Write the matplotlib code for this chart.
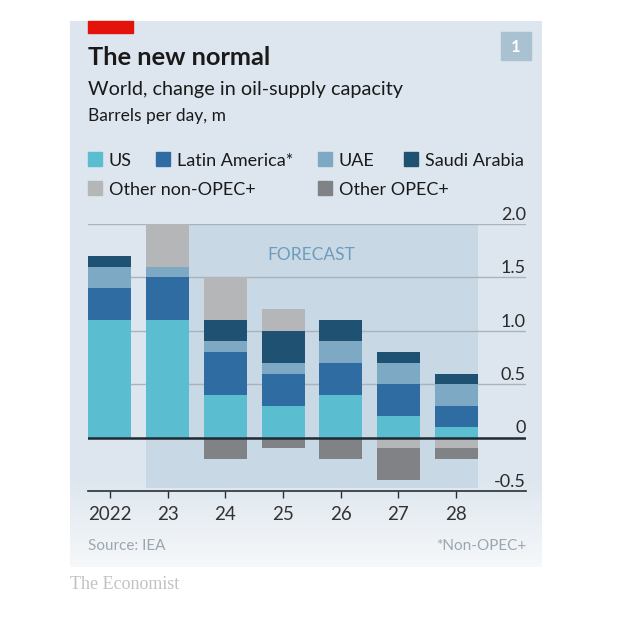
import numpy as np
import matplotlib
matplotlib.use("Agg")
import matplotlib.pyplot as plt
from matplotlib.patches import Rectangle

# data, m barrels per day
years = ["2022", "23", "24", "25", "26", "27", "28"]
us = [1.1, 1.1, 0.4, 0.3, 0.4, 0.2, 0.1]
latin_america = [0.3, 0.4, 0.4, 0.3, 0.3, 0.3, 0.2]
uae = [0.2, 0.1, 0.1, 0.1, 0.2, 0.2, 0.2]
saudi = [0.1, 0.0, 0.2, 0.3, 0.2, 0.1, 0.1]
other_non_opec = [0.0, 0.4, 0.4, 0.2, 0.0, -0.1, -0.1]
other_opec = [0.0, 0.0, -0.2, -0.1, -0.2, -0.3, -0.1]

series_names = ["US", "Latin America*", "UAE", "Saudi Arabia",
                "Other non-OPEC+", "Other OPEC+"]
series_vals = [us, latin_america, uae, saudi, other_non_opec, other_opec]
colors = ["#5bbdd0", "#2f6ca2", "#7ea9c4", "#1f5272", "#b5b6b8", "#808286"]

W, H = 640, 634
plt.rcParams["font.family"] = ["Lato", "DejaVu Sans"]
TXT = "#1a1a1a"


def fx(x):
    return x / W


def fy(y):
    return 1 - y / H


fig = plt.figure(figsize=(W / 100, H / 100), dpi=100, facecolor="white")

# card background with fade at the bottom
card = fig.add_axes([fx(70), fy(567), (542 - 70) / W, (567 - 21) / H], zorder=0)
top_c = np.array([0xdd, 0xe6, 0xee]) / 255
bot_c = np.array([0xf6, 0xf8, 0xfa]) / 255
n = 546
t = np.clip((np.arange(n) - 455) / (n - 455), 0, 1)[:, None]
grad = top_c[None, :] * (1 - t) + bot_c[None, :] * t
card.imshow(grad[:, None, :], aspect="auto", extent=[0, 1, 0, 1])
card.axis("off")

# header
fig.patches.append(Rectangle((fx(88), fy(33)), 45 / W, 12 / H,
                             transform=fig.transFigure, color="#e3120b"))
fig.patches.append(Rectangle((fx(501), fy(60)), 30 / W, 28 / H,
                             transform=fig.transFigure, color="#a9c1d1"))
fig.text(fx(516), fy(51.5), "1", color="white", fontsize=12, fontweight="bold",
         ha="center", va="baseline")
fig.text(fx(88), fy(65), "The new normal", fontsize=18.3, fontweight="bold",
         color=TXT, va="baseline")
fig.text(fx(88), fy(95), "World, change in oil-supply capacity", fontsize=14.3,
         color=TXT, va="baseline")
fig.text(fx(88), fy(121), "Barrels per day, m", fontsize=12.5,
         color=TXT, va="baseline")

# legend
legend_pos = [(88, 166), (156, 166), (318, 166), (404, 166), (88, 195), (318, 195)]
for (lx, ly), name, c in zip(legend_pos, series_names, colors):
    fig.patches.append(Rectangle((fx(lx), fy(ly)), 14 / W, 14 / H,
                                 transform=fig.transFigure, color=c))
    fig.text(fx(lx + 21), fy(ly), name, fontsize=13, color=TXT, va="baseline")

# chart
ax = fig.add_axes([fx(88), fy(491), (526 - 88) / W, (491 - 224) / H], zorder=1)
ax.patch.set_alpha(0)
x = np.arange(len(years))
bw = 0.745
ax.set_xlim(-0.381, 7.21)
ax.set_ylim(-0.5, 2.0)

ax.add_patch(Rectangle((1 - bw / 2, -0.475), 5 + bw, 2.475,
                       color="#c8d8e4", zorder=0.5, lw=0))
for v in [0.5, 1.0, 1.5, 2.0]:
    ax.axhline(v, color="#a8b3bc", lw=1, zorder=1)

pos = np.zeros(len(years))
neg = np.zeros(len(years))
for vals, c in zip(series_vals, colors):
    vals = np.array(vals)
    p = np.where(vals > 0, vals, 0)
    q = np.where(vals < 0, vals, 0)
    ax.bar(x, p, bw, bottom=pos, color=c, zorder=2, lw=0)
    ax.bar(x, q, bw, bottom=neg, color=c, zorder=2, lw=0)
    pos += p
    neg += q

ax.axhline(0, color="#1e2a33", lw=1.8, zorder=3)

ax.text(3.48, 1.66, "FORECAST", color="#6e9cbd", fontsize=12.5,
        ha="center", va="baseline", zorder=3)

ylabels = ["2.0", "1.5", "1.0", "0.5", "0", "-0.5"]
for lab in ylabels:
    ax.annotate(lab, xy=(1, float(lab)), xycoords=("axes fraction", "data"),
                xytext=(0, 3), textcoords="offset points", ha="right",
                va="baseline", fontsize=13, color="#2a2a2a")

for s in ["top", "right", "left"]:
    ax.spines[s].set_visible(False)
ax.spines["bottom"].set_color("#2b2f33")
ax.spines["bottom"].set_linewidth(1.2)
ax.set_yticks([])
ax.set_xticks(x)
ax.set_xticklabels(years, fontsize=13.5, color="#333333")
ax.tick_params(axis="x", direction="out", length=5, width=1, color="#2b2f33", pad=6)

# footer
fig.text(fx(88), fy(550), "Source: IEA", fontsize=11, color="#9aa6b0", va="baseline")
fig.text(fx(526), fy(550), "*Non-OPEC+", fontsize=11, color="#9aa6b0",
         va="baseline", ha="right")
fig.text(fx(70), fy(589), "The Economist", fontsize=13, color="#c2c2c2",
         va="baseline", family=["Liberation Serif", "DejaVu Serif"])

fig.savefig("out.png", dpi=100, facecolor="white")
